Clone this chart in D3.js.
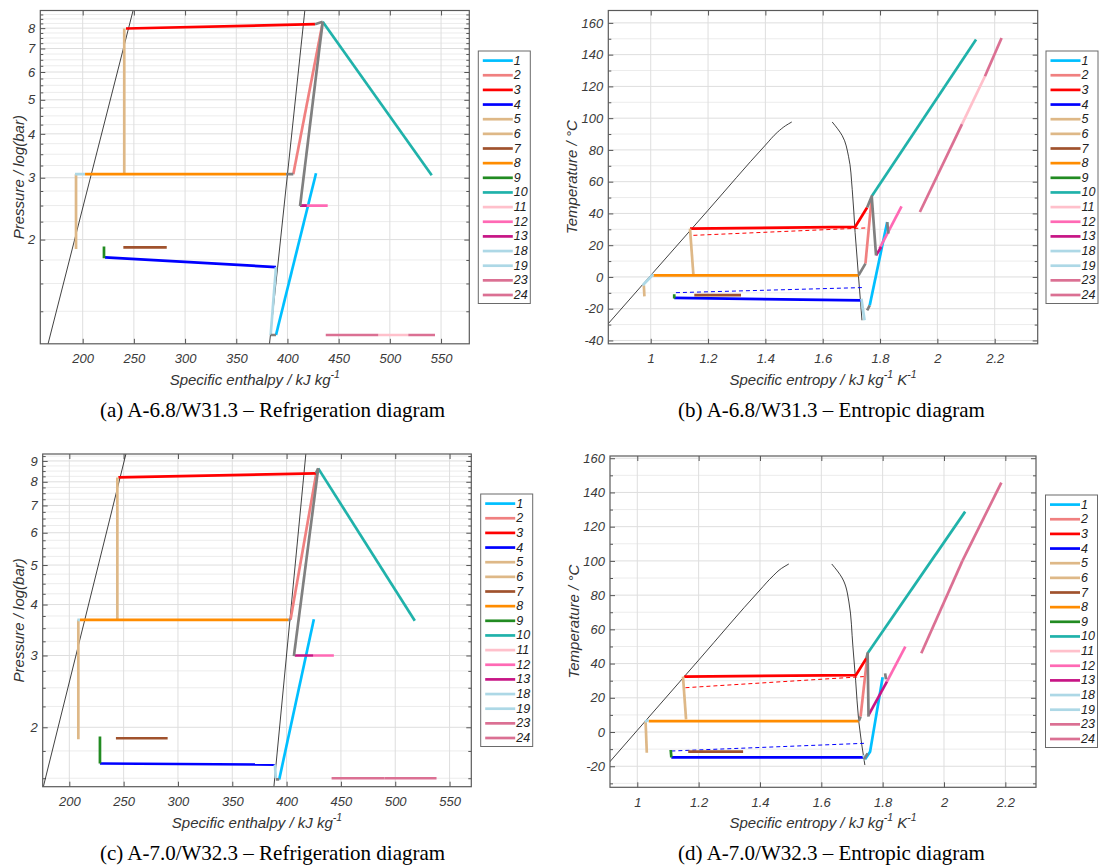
<!DOCTYPE html>
<html>
<head>
<meta charset="utf-8">
<script src="https://cdn.jsdelivr.net/npm/d3@7"></script>
<style>
  body { margin: 0; background: #fff; }
  svg { display: block; }
</style>
</head>
<body>
<svg id="chart" width="1100" height="868"></svg>
<script>
// legend entries, same for all four panels
const legendIds = ['1','2','3','4','5','6','7','8','9','10','11','12','13','18','19','23','24'];
const legendColors = ['#00bfff','#f08080','#ff0000','#0000ff','#deb887','#deb887','#a0522d','#ff8c00',
  '#228b22','#20b2aa','#ffc0cb','#ff69b4','#c71585','#add8e6','#add8e6','#db7093','#db7093'];

// tick values
const hTicks = [200, 250, 300, 350, 400, 450, 500, 550];
const pTicksA = [2, 3, 4, 5, 6, 7, 8];
const pTicksC = [2, 3, 4, 5, 6, 7, 8, 9];
const sTicks = [1, 1.2, 1.4, 1.6, 1.8, 2, 2.2];
const tTicksB = [-40, -20, 0, 20, 40, 60, 80, 100, 120, 140, 160];
const tTicksD = [-20, 0, 20, 40, 60, 80, 100, 120, 140, 160];

// (a) A-6.8/W31.3, enthalpy [kJ/kg] vs pressure [bar]
const satLiqA = [[165.8, 1.0], [249.3, 9.0]];
const satVapA = [[382.3, 1.0], [417.0, 9.0]];
const linesA = [
  ['1',  [[388.8, 1.07], [427.9, 3.09]]],
  ['2',  [[405.7, 3.07], [434.4, 8.30]]],
  ['3',  [[242.3, 7.98], [426.9, 8.21]]],
  ['4',  [[221.8, 1.78], [388.8, 1.67]]],
  ['5',  [[240.6, 7.98], [240.6, 3.07]]],
  ['6',  [[193.5, 3.07], [193.5, 1.88]]],
  ['7',  [[239.7, 1.90], [282.1, 1.90]]],
  ['8',  [[202.3, 3.07], [398.6, 3.07]]],
  ['9',  [[220.8, 1.91], [220.8, 1.77]]],
  ['10', [[434.4, 8.34], [540.9, 3.05]]],
  ['11', [[488.7, 1.07], [518.0, 1.07]]],
  ['12', [[413.9, 2.50], [439.3, 2.50]]],
  ['13', [[412.3, 2.50], [418.8, 2.50]]],
  ['18', [[192.5, 3.07], [202.3, 3.07]]],
  ['19', [[388.8, 1.67], [383.6, 1.07]]],
  ['23', [[437.4, 1.07], [488.7, 1.07]]],
  ['24', [[518.0, 1.07], [544.1, 1.07]]]
];
const grayA = [
  [[398.6, 3.07], [405.7, 3.07]],
  [[412.3, 2.49], [434.4, 8.34]],
  [[426.9, 8.21], [434.4, 8.34]],
  [[383.6, 1.07], [388.8, 1.07]]
];

// (b) A-6.8/W31.3, entropy [kJ/kgK] vs temperature [C]
const satLiqB = [[0.85, -29.8], [1.0, 1.0], [1.2, 42.0], [1.4, 83.0], [1.443, 91.3], [1.47, 95.2], [1.492, 97.6]];
const satVapB = [[1.633, 97.6], [1.668, 89], [1.690, 76], [1.703, 55], [1.713, 28], [1.725, 0], [1.737, -27.3]];
const linesB = [
  ['1',  [[1.764, -17.9], [1.825, 34.6]]],
  ['2',  [[1.749, 8.4], [1.771, 50.0]]],
  ['3',  [[1.137, 30.4], [1.713, 31.5], [1.755, 43.7]]],
  ['4',  [[1.082, -13.2], [1.735, -14.7]]],
  ['5',  [[1.137, 30.4], [1.149, 1.0]]],
  ['6',  [[0.976, -5.2], [0.978, -12.2]]],
  ['7',  [[1.152, -11.5], [1.315, -11.5]]],
  ['8',  [[1.009, 1.0], [1.725, 1.0]]],
  ['9',  [[1.082, -10.9], [1.082, -13.6]]],
  ['10', [[1.771, 50.8], [2.135, 149.5]]],
  ['11', [[2.086, 96.2], [2.166, 126.4]]],
  ['12', [[1.798, 17.9], [1.875, 44.5]]],
  ['13', [[1.786, 13.6], [1.804, 18.9]]],
  ['18', [[0.972, -5.2], [1.009, 1.7]]],
  ['19', [[1.735, -13.7], [1.746, -27.3]]],
  ['23', [[1.939, 40.9], [2.086, 96.2]]],
  ['24', [[2.166, 126.4], [2.224, 150.5]]]
];
const grayB = [
  [[1.725, 1.0], [1.749, 8.4]],
  [[1.755, 43.7], [1.771, 50.8], [1.786, 13.6]],
  [[1.755, -21.0], [1.764, -17.9]],
  [[1.825, 34.6], [1.829, 27.3]]
];
const dashedB = [
  ['3', [[1.149, 26.2], [1.755, 30.9]]],
  ['4', [[1.088, -9.9], [1.737, -6.7]]]
];

// (c) A-7.0/W32.3, enthalpy vs pressure
const satLiqC = [[176.1, 1.43], [252.1, 9.36]];
const satVapC = [[388.3, 1.43], [417.7, 9.36]];
const linesC = [
  ['1',  [[393.2, 1.49], [425.1, 3.68]]],
  ['2',  [[403.6, 3.67], [427.6, 8.48]]],
  ['3',  [[245.1, 8.20], [427.0, 8.39]]],
  ['4',  [[228.2, 1.63], [389.2, 1.62]]],
  ['5',  [[244.2, 8.20], [244.2, 3.67]]],
  ['6',  [[208.3, 3.67], [208.3, 1.87]]],
  ['7',  [[242.9, 1.88], [290.5, 1.88]]],
  ['8',  [[209.8, 3.67], [401.5, 3.67]]],
  ['9',  [[228.2, 1.90], [228.2, 1.63]]],
  ['10', [[429.1, 8.63], [518.0, 3.65]]],
  ['12', [[424.5, 3.00], [443.5, 3.00]]],
  ['13', [[407.6, 3.00], [424.5, 3.00]]],
  ['18', [[207.4, 3.67], [209.8, 3.67]]],
  ['19', [[389.2, 1.62], [390.1, 1.50]]],
  ['23', [[441.4, 1.50], [490.0, 1.50]]],
  ['24', [[490.0, 1.50], [538.0, 1.50]]]
];
const grayC = [
  [[401.5, 3.67], [403.6, 3.67]],
  [[406.7, 2.99], [429.1, 8.63]],
  [[427.0, 8.39], [429.1, 8.63]],
  [[390.1, 1.49], [393.2, 1.49]]
];

// (d) A-7.0/W32.3, entropy vs temperature
const satLiqD = [[0.85, -29.8], [1.0, 1.0], [1.2, 42.0], [1.4, 83.0], [1.443, 91.3], [1.47, 95.6], [1.494, 98.2]];
const satVapD = [[1.634, 98.2], [1.668, 90], [1.690, 76], [1.703, 50], [1.712, 30], [1.722, 6.4], [1.742, -19.3]];
const linesD = [
  ['1',  [[1.742, -16.0], [1.759, -11.5], [1.800, 32.0]]],
  ['2',  [[1.728, 9.0], [1.751, 46.0]]],
  ['3',  [[1.153, 32.4], [1.713, 33.3], [1.747, 43.1]]],
  ['4',  [[1.111, -14.8], [1.737, -14.8]]],
  ['5',  [[1.149, 32.4], [1.159, 7.4]]],
  ['6',  [[1.027, 6.4], [1.031, -12.1]]],
  ['7',  [[1.166, -11.5], [1.345, -11.5]]],
  ['8',  [[1.037, 6.4], [1.722, 6.4]]],
  ['9',  [[1.109, -10.5], [1.111, -14.8]]],
  ['10', [[1.751, 46.0], [2.069, 128.8]]],
  ['12', [[1.814, 29.4], [1.874, 49.9]]],
  ['13', [[1.754, 9.9], [1.814, 29.4]]],
  ['18', [[1.025, 6.0], [1.037, 7.0]]],
  ['19', [[1.737, -13.4], [1.743, -16.4]]],
  ['23', [[1.926, 46.0], [2.060, 100.0]]],
  ['24', [[2.060, 100.0], [2.187, 145.8]]]
];
const grayD = [
  [[1.722, 6.4], [1.728, 9.0]],
  [[1.747, 43.1], [1.751, 46.0], [1.754, 9.0]],
  [[1.808, 34.3], [1.811, 30.8]],
  [[1.739, -16.0], [1.751, -12.5]]
];
const dashedD = [
  ['3', [[1.157, 25.9], [1.739, 32.4]]],
  ['4', [[1.111, -11.1], [1.739, -6.6]]]
];

const colorOf = id => legendColors[legendIds.indexOf(id)];
const fmt = d => String(d);
const logMinor = d3.range(1, 9.76, 0.25).filter(v => Math.abs(v - Math.round(v)) > 1e-6);
const linMinor = d3.range(-50, 180, 10).filter(v => v % 20 !== 0);

const svg = d3.select('#chart');
const sansFont = '"Liberation Sans", Arial, sans-serif';

const panels = [
  { key: 'a', box: [40.3, 10.5, 469.3, 343.8],
    x: d3.scaleLinear().domain([158.6, 577.6]), y: d3.scaleLog().domain([1.01, 8.98]),
    xt: hTicks, yt: pTicksA, yMinor: logMinor,
    sat: [satLiqA, satVapA], lines: linesA, gray: grayA, dashed: [],
    legend: [478.3, 51], yLabelX: 18,
    xLabel: ['Specific enthalpy / kJ kg', '-1'], yLabel: 'Pressure / log(bar)',
    caption: '(a) A-6.8/W31.3 \u2013 Refrigeration diagram', cap: [272.5, 417] },
  { key: 'b', box: [608.3, 10.5, 1037.7, 343.8],
    x: d3.scaleLinear().domain([0.852, 2.35]), y: d3.scaleLinear().domain([-42.1, 167.8]),
    xt: sTicks, yt: tTicksB, yMinor: linMinor,
    sat: [satLiqB, satVapB], lines: linesB, gray: grayB, dashed: dashedB,
    legend: [1046, 51], yLabelX: 571.7,
    xLabel: ['Specific entropy / kJ kg', '-1', ' K', '-1'], yLabel: 'Temperature / \u00b0C',
    caption: '(b) A-6.8/W31.3 \u2013 Entropic diagram', cap: [831.5, 417] },
  { key: 'c', box: [42.7, 454, 471.3, 786.7],
    x: d3.scaleLinear().domain([175.5, 570]), y: d3.scaleLog().domain([1.43, 9.36]),
    xt: hTicks, yt: pTicksC, yMinor: logMinor,
    sat: [satLiqC, satVapC], lines: linesC, gray: grayC, dashed: [],
    legend: [480.7, 494], yLabelX: 18.3,
    xLabel: ['Specific enthalpy / kJ kg', '-1'], yLabel: 'Pressure / log(bar)',
    caption: '(c) A-7.0/W32.3 \u2013 Refrigeration diagram', cap: [272.5, 860] },
  { key: 'd', box: [610, 456, 1036, 787.3],
    x: d3.scaleLinear().domain([0.911, 2.30]), y: d3.scaleLinear().domain([-32.3, 161.3]),
    xt: sTicks, yt: tTicksD, yMinor: linMinor,
    sat: [satLiqD, satVapD], lines: linesD, gray: grayD, dashed: dashedD,
    legend: [1045.5, 495], yLabelX: 573.3,
    xLabel: ['Specific entropy / kJ kg', '-1', ' K', '-1'], yLabel: 'Temperature / \u00b0C',
    caption: '(d) A-7.0/W32.3 \u2013 Entropic diagram', cap: [831.5, 860] }
];

panels.forEach(P => {
  const [x0, y0, x1, y1] = P.box;
  const x = P.x.range([x0, x1]);
  const y = P.y.range([y1, y0]);
  const [yd0, yd1] = P.y.domain();
  const g = svg.append('g').attr('class', 'panel-' + P.key);

  g.append('clipPath').attr('id', 'clip-' + P.key)
    .append('rect').attr('x', x0).attr('y', y0).attr('width', x1 - x0).attr('height', y1 - y0);

  // grid
  const minorY = P.yMinor.filter(v => v > yd0 && v < yd1);
  g.append('g').selectAll('line').data(minorY).join('line')
    .attr('x1', x0).attr('x2', x1).attr('y1', d => y(d)).attr('y2', d => y(d))
    .attr('stroke', '#ececec').attr('stroke-width', 1);
  g.append('g').selectAll('line').data(P.yt).join('line')
    .attr('x1', x0).attr('x2', x1).attr('y1', d => y(d)).attr('y2', d => y(d))
    .attr('stroke', '#dedede').attr('stroke-width', 1);
  g.append('g').selectAll('line').data(P.xt).join('line')
    .attr('x1', d => x(d)).attr('x2', d => x(d)).attr('y1', y0).attr('y2', y1)
    .attr('stroke', '#dedede').attr('stroke-width', 1);

  // axes, ticks pointing inward
  const styleAxis = sel => {
    sel.select('.domain').remove();
    sel.selectAll('.tick line').attr('stroke', '#555');
    sel.selectAll('.tick text').attr('fill', '#3a3a3a').attr('font-style', 'italic')
      .attr('font-family', sansFont).attr('font-size', 13);
  };
  g.append('g').attr('transform', `translate(0,${y1})`)
    .call(d3.axisBottom(x).tickValues(P.xt).tickFormat(fmt).tickSize(-5).tickSizeOuter(0).tickPadding(10))
    .call(styleAxis);
  g.append('g').attr('transform', `translate(0,${y0})`)
    .call(d3.axisTop(x).tickValues(P.xt).tickFormat('').tickSize(-5).tickSizeOuter(0))
    .call(styleAxis);
  g.append('g').attr('transform', `translate(${x0},0)`)
    .call(d3.axisLeft(y).tickValues(P.yt).tickFormat(fmt).tickSize(-5).tickSizeOuter(0).tickPadding(5))
    .call(styleAxis);
  g.append('g').attr('transform', `translate(${x1},0)`)
    .call(d3.axisRight(y).tickValues(P.yt).tickFormat('').tickSize(-5).tickSizeOuter(0))
    .call(styleAxis);
  g.append('g').attr('transform', `translate(${x0},0)`)
    .call(d3.axisLeft(y).tickValues(minorY).tickFormat('').tickSize(-3).tickSizeOuter(0))
    .call(styleAxis);
  g.append('g').attr('transform', `translate(${x1},0)`)
    .call(d3.axisRight(y).tickValues(minorY).tickFormat('').tickSize(-3).tickSizeOuter(0))
    .call(styleAxis);

  // data
  const line = d3.line().x(d => x(d[0])).y(d => y(d[1]));
  const smooth = d3.line().x(d => x(d[0])).y(d => y(d[1])).curve(d3.curveMonotoneY);
  const plot = g.append('g').attr('clip-path', `url(#clip-${P.key})`);
  plot.selectAll('path.sat').data(P.sat).join('path').attr('class', 'sat')
    .attr('d', d => smooth(d.slice().sort((a, b) => a[1] - b[1])))
    .attr('fill', 'none').attr('stroke', '#111').attr('stroke-width', 0.8);
  plot.selectAll('path.dash').data(P.dashed).join('path').attr('class', 'dash')
    .attr('d', d => line(d[1])).attr('fill', 'none').attr('stroke', d => colorOf(d[0]))
    .attr('stroke-width', 1).attr('stroke-dasharray', '4,3');
  plot.selectAll('path.series').data(P.lines).join('path').attr('class', 'series')
    .attr('d', d => line(d[1])).attr('fill', 'none').attr('stroke', d => colorOf(d[0]))
    .attr('stroke-width', 2.7).attr('stroke-linejoin', 'round');
  plot.selectAll('path.gray').data(P.gray).join('path').attr('class', 'gray')
    .attr('d', line).attr('fill', 'none').attr('stroke', '#808080')
    .attr('stroke-width', 2.7).attr('stroke-linejoin', 'round');

  // frame
  g.append('rect').attr('x', x0).attr('y', y0).attr('width', x1 - x0).attr('height', y1 - y0)
    .attr('fill', 'none').attr('stroke', '#5a5a5a').attr('stroke-width', 1.2);

  // axis labels
  const xl = g.append('text').attr('x', (x0 + x1) / 2).attr('y', y1 + 41)
    .attr('text-anchor', 'middle').attr('font-family', sansFont).attr('font-style', 'italic')
    .attr('font-size', 15).attr('fill', '#333');
  P.xLabel.forEach((t, i) => {
    const sup = i % 2 === 1;
    xl.append('tspan').text(t)
      .attr('font-size', sup ? 10.5 : 15)
      .attr('dy', i === 0 ? 0 : (sup ? -7 : 7));
  });
  g.append('text')
    .attr('transform', `translate(${P.yLabelX},${(y0 + y1) / 2}) rotate(-90)`)
    .attr('text-anchor', 'middle').attr('dominant-baseline', 'central')
    .attr('font-family', sansFont).attr('font-style', 'italic')
    .attr('font-size', 15).attr('fill', '#333').text(P.yLabel);

  // legend
  const [lx, ly] = P.legend;
  const lg = g.append('g');
  lg.append('rect').attr('x', lx).attr('y', ly).attr('width', 52).attr('height', 252.5)
    .attr('fill', '#fff').attr('stroke', '#6a6a6a').attr('stroke-width', 1);
  const rows = lg.selectAll('g.row').data(legendIds).join('g').attr('class', 'row')
    .attr('transform', (d, i) => `translate(${lx},${ly + 9.6 + i * 14.65})`);
  rows.append('line').attr('x1', 4.5).attr('x2', 34.5).attr('y1', 0).attr('y2', 0)
    .attr('stroke', d => colorOf(d)).attr('stroke-width', 2.7);
  rows.append('text').attr('x', 35.5).attr('y', 0).attr('dominant-baseline', 'central')
    .attr('font-family', sansFont).attr('font-style', 'italic').attr('font-size', 12.5)
    .attr('fill', '#222').text(d => d);

  // caption
  g.append('text').attr('x', P.cap[0]).attr('y', P.cap[1]).attr('text-anchor', 'middle')
    .attr('font-family', '"Liberation Serif", "Times New Roman", serif')
    .attr('font-size', 21).attr('fill', '#000').text(P.caption);
});
</script>
</body>
</html>
